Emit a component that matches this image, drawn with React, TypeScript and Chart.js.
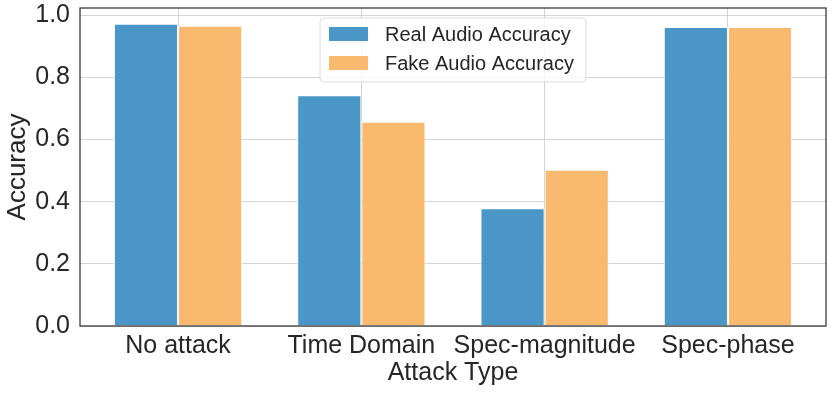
import React, { useEffect, useRef } from "react";
import { Chart, registerables } from "chart.js";

Chart.register(...registerables);

const categories = ["No attack", "Time Domain", "Spec-magnitude", "Spec-phase"];
const realAccuracy = [0.972, 0.742, 0.379, 0.962];
const fakeAccuracy = [0.966, 0.657, 0.503, 0.962];
const yTicks = [0, 0.2, 0.4, 0.6, 0.8, 1.0];
const seriesLabels = ["Real Audio Accuracy", "Fake Audio Accuracy"];
const seriesColors = ["#4a96c7", "#f9ba6f"];

const FONT = "'Liberation Sans', Arial, sans-serif";
const TEXT = "#262626";

const framePlugin = {
  id: "frame",
  afterDatasetsDraw(chart: any) {
    const { ctx, chartArea } = chart;
    ctx.save();
    ctx.strokeStyle = "#333333";
    ctx.lineWidth = 1.25;
    ctx.strokeRect(chartArea.left, chartArea.top, chartArea.right - chartArea.left, chartArea.bottom - chartArea.top);
    ctx.restore();
  },
};

const innerLegend = {
  id: "innerLegend",
  afterDraw(chart: any) {
    const { ctx, chartArea } = chart;
    const ds = chart.data.datasets;
    ctx.save();
    ctx.font = `20px ${FONT}`;
    let maxW = 0;
    ds.forEach((d: any) => {
      maxW = Math.max(maxW, ctx.measureText(d.label).width);
    });
    const padL = 9, sw = 39, sh = 14, gap = 17, padR = 12;
    const boxW = padL + sw + gap + maxW + padR;
    const boxH = 64;
    const cx = (chartArea.left + chartArea.right) / 2;
    const x0 = cx - boxW / 2;
    const y0 = chartArea.top + 10;
    ctx.beginPath();
    ctx.roundRect(x0, y0, boxW, boxH, 4);
    ctx.fillStyle = "rgba(255,255,255,0.8)";
    ctx.fill();
    ctx.strokeStyle = "#dcdcdc";
    ctx.lineWidth = 1;
    ctx.stroke();
    const rows = [16, 45];
    ds.forEach((d: any, i: number) => {
      const yc = y0 + rows[i];
      ctx.fillStyle = d.backgroundColor;
      ctx.fillRect(x0 + padL, yc - sh / 2, sw, sh);
      ctx.fillStyle = TEXT;
      ctx.textBaseline = "middle";
      ctx.textAlign = "left";
      ctx.fillText(d.label, x0 + padL + sw + gap, yc + 1);
    });
    ctx.restore();
  },
};

export default function App() {
  const ref = useRef<HTMLCanvasElement | null>(null);

  useEffect(() => {
    document.body.style.margin = "0";
    const canvas = ref.current;
    if (!canvas) return;
    const chart = new Chart(canvas, {
      type: "bar",
      data: {
        datasets: [realAccuracy, fakeAccuracy].map((vals, k) => ({
          label: seriesLabels[k],
          data: categories.map((_, i) => ({ x: i, y: vals[i] })),
          backgroundColor: seriesColors[k],
          borderColor: "rgba(255,255,255,0.9)",
          borderWidth: 1,
          barPercentage: 1,
          categoryPercentage: 0.7,
        })),
      },
      options: {
        animation: false,
        responsive: false,
        maintainAspectRatio: false,
        layout: { padding: { top: 8, right: 4, left: 0, bottom: 0 } },
        plugins: { legend: { display: false }, tooltip: { enabled: false } },
        scales: {
          x: {
            type: "linear",
            offset: false,
            min: -0.535,
            max: 3.535,
            afterBuildTicks: (scale: any) => {
              scale.ticks = categories.map((_, i) => ({ value: i }));
            },
            afterFit: (scale: any) => {
              scale.height = 69;
              scale.paddingLeft = 0;
              scale.paddingRight = 0;
            },
            border: { display: false },
            grid: { color: "#d4d4d4", lineWidth: 1, drawTicks: false, offset: false },
            ticks: {
              color: TEXT,
              font: { family: FONT, size: 25 },
              padding: 5,
              autoSkip: false,
              maxRotation: 0,
              callback: (v: any) => categories[v] ?? "",
            },
            title: {
              display: true,
              text: "Attack Type",
              color: TEXT,
              font: { family: FONT, size: 25 },
              padding: { top: 0, bottom: 7 },
            },
          },
          y: {
            min: 0,
            max: 1.023,
            afterBuildTicks: (scale: any) => {
              scale.ticks = yTicks.map((v) => ({ value: v }));
            },
            afterFit: (scale: any) => {
              scale.width = 80;
              scale.paddingTop = 0;
              scale.paddingBottom = 0;
            },
            border: { display: false },
            grid: { color: "#d4d4d4", lineWidth: 1, drawTicks: false },
            ticks: {
              color: TEXT,
              font: { family: FONT, size: 25 },
              padding: 10,
              callback: (v: any) => Number(v).toFixed(1),
            },
            title: {
              display: true,
              text: "Accuracy",
              color: TEXT,
              font: { family: FONT, size: 26 },
              padding: { top: 2, bottom: 0 },
            },
          },
        },
      },
      plugins: [framePlugin, innerLegend],
    });
    return () => chart.destroy();
  }, []);

  return (
    <div style={{ width: 830, height: 395 }}>
      <canvas ref={ref} width={830} height={395} style={{ display: "block" }} />
    </div>
  );
}
